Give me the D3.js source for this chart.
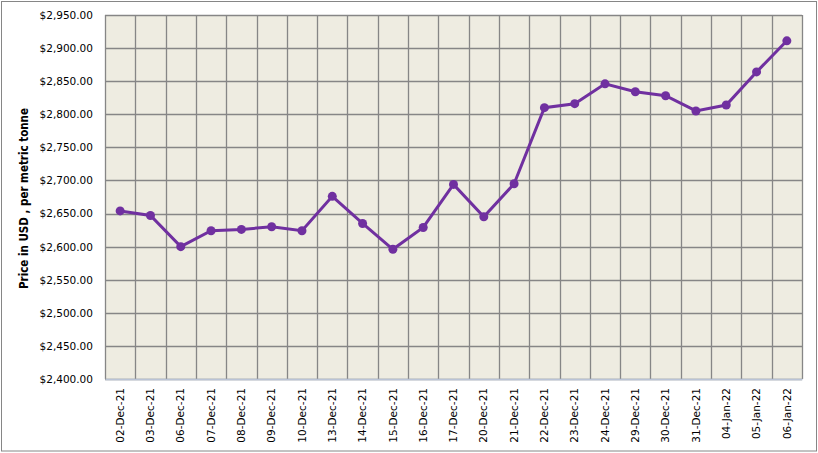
<!DOCTYPE html>
<html>
<head>
<meta charset="utf-8">
<script src="https://cdn.jsdelivr.net/npm/d3@7"></script>
<style>
  body { margin: 0; background: #fff; }
  text { font-family: "DejaVu Sans", sans-serif; }
</style>
</head>
<body>
<div id="chart"></div>
<script>
// dates and prices
var dates = ["02-Dec-21", "03-Dec-21", "06-Dec-21", "07-Dec-21", "08-Dec-21", "09-Dec-21",
  "10-Dec-21", "13-Dec-21", "14-Dec-21", "15-Dec-21", "16-Dec-21", "17-Dec-21",
  "20-Dec-21", "21-Dec-21", "22-Dec-21", "23-Dec-21", "24-Dec-21", "29-Dec-21",
  "30-Dec-21", "31-Dec-21", "04-Jan-22", "05-Jan-22", "06-Jan-22"];
var prices = [2654, 2647, 2600, 2624, 2626, 2630, 2624, 2676, 2635, 2596, 2629, 2694,
  2645, 2695, 2810, 2816, 2846, 2834, 2828, 2805, 2814, 2864, 2911];
var yTicks = [2400, 2450, 2500, 2550, 2600, 2650, 2700, 2750, 2800, 2850, 2900, 2950];
var yTitle = "Price in USD , per metric tonne";

var W = 818, H = 453;
var margin = {top: 15, right: 16, bottom: 74, left: 105},
    width = W - margin.left - margin.right,
    height = H - margin.top - margin.bottom;

var root = d3.select("#chart").append("svg")
    .attr("width", W)
    .attr("height", H);

// outer chart border
root.append("rect")
    .attr("x", 1.5).attr("y", 1.5)
    .attr("width", 815).attr("height", 449.5)
    .attr("fill", "#fff")
    .attr("stroke", "#868686");

var svg = root.append("g")
    .attr("transform", "translate(" + margin.left + "," + margin.top + ")");

var x = d3.scaleBand()
    .domain(dates)
    .range([0, width]);

var y = d3.scaleLinear()
    .domain([2400, 2950])
    .range([height, 0]);

// plot background
svg.append("rect")
    .attr("width", width)
    .attr("height", height)
    .attr("fill", "#EEECE1");

// horizontal grid
svg.append("g")
  .selectAll("line")
  .data(yTicks)
  .enter().append("line")
    .attr("x1", 0).attr("x2", width)
    .attr("y1", function(d) { return Math.round(y(d)) + 0.5; })
    .attr("y2", function(d) { return Math.round(y(d)) + 0.5; })
    .attr("stroke", "#868686")
    .attr("stroke-width", 1.3);

// vertical grid at category boundaries
var bounds = dates.map(function(d) { return x(d); }).concat([width]);
svg.append("g")
  .selectAll("line")
  .data(bounds)
  .enter().append("line")
    .attr("x1", function(d) { return Math.round(d) + 0.5; })
    .attr("x2", function(d) { return Math.round(d) + 0.5; })
    .attr("y1", 0).attr("y2", height)
    .attr("stroke", "#868686")
    .attr("stroke-width", 1.3);

// y axis labels
var fmt = d3.format("$,.2f");
svg.append("g")
    .call(d3.axisLeft(y).tickValues(yTicks).tickFormat(fmt).tickSize(0).tickPadding(12))
    .call(function(g) { g.select(".domain").remove(); })
    .selectAll("text")
    .attr("font-family", "DejaVu Sans, sans-serif")
    .attr("font-size", "10.5px")
    .attr("fill", "#000");

// x axis
var xAxis = svg.append("g")
    .attr("transform", "translate(0," + height + ")")
    .call(d3.axisBottom(x).tickSize(0).tickPadding(0));
xAxis.select(".domain").attr("stroke", "#B9C3D6").attr("stroke-width", 1.3);
xAxis.selectAll("text")
    .attr("font-family", "DejaVu Sans, sans-serif")
    .attr("font-size", "10.5px")
    .attr("fill", "#000")
    .attr("text-anchor", "end")
    .attr("dy", "0.35em")
    .attr("transform", "translate(0,9) rotate(-90)");

// y title
root.append("text")
    .attr("transform", "translate(28,198.5) rotate(-90)")
    .attr("text-anchor", "middle")
    .attr("font-size", "12px")
    .attr("font-weight", "bold")
    .attr("textLength", 181)
    .attr("lengthAdjust", "spacingAndGlyphs")
    .text(yTitle);

// line + markers
var line = d3.line()
    .x(function(d, i) { return x(dates[i]) + x.bandwidth() / 2; })
    .y(function(d) { return y(d); });

svg.append("path")
    .datum(prices)
    .attr("d", line)
    .attr("fill", "none")
    .attr("stroke", "#7030A0")
    .attr("stroke-width", 3);

svg.selectAll("circle")
    .data(prices)
    .enter().append("circle")
    .attr("cx", function(d, i) { return x(dates[i]) + x.bandwidth() / 2; })
    .attr("cy", function(d) { return y(d); })
    .attr("r", 4.5)
    .attr("fill", "#7030A0");
</script>
</body>
</html>
